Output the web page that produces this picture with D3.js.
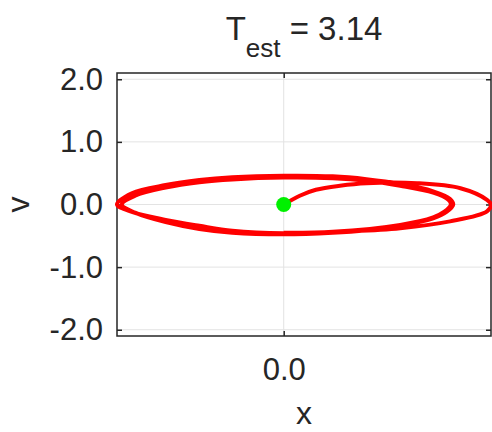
<!DOCTYPE html>
<html>
<head>
<meta charset="utf-8">
<script src="https://cdn.jsdelivr.net/npm/d3@7"></script>
<style>
  body { margin: 0; background: #fff; }
  text { font-family: "Liberation Sans", Arial, sans-serif; fill: #262626; }
</style>
</head>
<body>
<svg id="chart" width="492" height="432"></svg>
<script>
// trajectory: position x and velocity v
var trajX = [0, 0.020, 0.040, 0.070, 0.103, 0.166, 0.220, 0.253, 0.258,
    0.253, 0.207, 0.145, 0.082, 0, -0.064, -0.105, -0.147, -0.189, -0.2075,
    -0.189, -0.147, -0.105, -0.064, 0, 0.061, 0.103, 0.145, 0.186, 0.207, 0.211,
    0.203, 0.186, 0.145, 0.103, 0.061, 0, -0.064, -0.105, -0.147, -0.185, -0.2015,
    -0.185, -0.147, -0.105, -0.064, 0, 0.061, 0.103, 0.145, 0.186, 0.205, 0.208,
    0.200, 0.186, 0.145, 0.061, 0];
var trajV = [0, 0.14, 0.235, 0.30, 0.34, 0.34, 0.26, 0.075, 0,
    -0.11, -0.27, -0.38, -0.43, -0.46, -0.42, -0.34, -0.245, -0.117, 0,
    0.18, 0.31, 0.39, 0.435, 0.46, 0.45, 0.405, 0.33, 0.21, 0.09, 0,
    -0.115, -0.22, -0.34, -0.41, -0.45, -0.475, -0.45, -0.39, -0.28, -0.13, 0,
    0.14, 0.27, 0.355, 0.40, 0.43, 0.42, 0.38, 0.30, 0.19, 0.075, 0,
    -0.115, -0.205, -0.325, -0.435, -0.45];

var startPoint = [0, 0];
var xTicks = [0];
var yTicks = [-2, -1, 0, 1, 2];
var yDomain = [-2.1, 2.1];
var titleMain = "T", titleSub = "est", titleRest = " = 3.14";

var svg = d3.select("#chart");
var pLeft = 117, pRight = 491, pTop = 73, pBottom = 336;

var x = d3.scaleLinear().domain(d3.extent(trajX)).range([pLeft, pRight]);
var y = d3.scaleLinear().domain(yDomain).range([pBottom, pTop]);

// grid
svg.append("g")
    .selectAll("line")
    .data(yTicks)
    .join("line")
    .attr("x1", pLeft).attr("x2", pRight)
    .attr("y1", d => y(d)).attr("y2", d => y(d))
    .attr("stroke", "#e3e3e3").attr("stroke-width", 1);
svg.append("g")
    .selectAll("line")
    .data(xTicks)
    .join("line")
    .attr("x1", d => x(d)).attr("x2", d => x(d))
    .attr("y1", pTop).attr("y2", pBottom)
    .attr("stroke", "#e3e3e3").attr("stroke-width", 1);

// axes (ticks inward, box on); plain hyphen for negatives like the original
var axFmt = d => d3.format(".1f")(d).replace("\u2212", "-");
var gl = svg.append("g").attr("transform", "translate(" + pLeft + ",0)")
    .call(d3.axisLeft(y).tickValues(yTicks).tickFormat(axFmt).tickSizeInner(-5).tickSizeOuter(0).tickPadding(14));
var gr = svg.append("g").attr("transform", "translate(" + pRight + ",0)")
    .call(d3.axisRight(y).tickValues(yTicks).tickFormat("").tickSizeInner(-5).tickSizeOuter(0));
var gb = svg.append("g").attr("transform", "translate(0," + pBottom + ")")
    .call(d3.axisBottom(x).tickValues(xTicks).tickFormat(axFmt).tickSizeInner(-5).tickSizeOuter(0).tickPadding(22));
var gt = svg.append("g").attr("transform", "translate(0," + pTop + ")")
    .call(d3.axisTop(x).tickValues(xTicks).tickFormat("").tickSizeInner(-5).tickSizeOuter(0));

[gl, gr, gb, gt].forEach(g => {
    g.select(".domain").remove();
    g.selectAll(".tick line").attr("stroke", "#262626").attr("stroke-width", 1.5);
    g.selectAll(".tick text")
        .attr("font-size", 31)
        .attr("font-family", "Liberation Sans, Arial, sans-serif")
        .attr("fill", "#262626");
});
gb.selectAll(".tick text").attr("dy", "0.71em");

svg.append("rect")
    .attr("x", pLeft).attr("y", pTop)
    .attr("width", pRight - pLeft).attr("height", pBottom - pTop)
    .attr("fill", "none").attr("stroke", "#262626").attr("stroke-width", 1.5);

// trajectory
var line = d3.line()
    .x((d, i) => x(trajX[i]))
    .y((d, i) => y(trajV[i]))
    .curve(d3.curveCatmullRom);

svg.append("path")
    .datum(trajX)
    .attr("d", line)
    .attr("fill", "none")
    .attr("stroke", "#ff0000")
    .attr("stroke-width", 4)
    .attr("stroke-linejoin", "round");

svg.append("circle")
    .attr("cx", x(startPoint[0]))
    .attr("cy", y(startPoint[1]))
    .attr("r", 7.5)
    .attr("fill", "#00f000");

// title
var title = svg.append("text")
    .attr("x", (pLeft + pRight) / 2)
    .attr("y", 40)
    .attr("text-anchor", "middle")
    .attr("font-size", 33);
title.append("tspan").text(titleMain);
title.append("tspan").attr("font-size", 26).attr("dy", 17).text(titleSub);
title.append("tspan").attr("dy", -17).text(titleRest);

// axis labels
svg.append("text")
    .attr("x", (pLeft + pRight) / 2)
    .attr("y", 424)
    .attr("text-anchor", "middle")
    .attr("font-size", 32)
    .text("x");

svg.append("text")
    .attr("transform", "translate(29," + (pTop + pBottom) / 2 + ") rotate(-90)")
    .attr("text-anchor", "middle")
    .attr("font-size", 32)
    .text("v");
</script>
</body>
</html>
